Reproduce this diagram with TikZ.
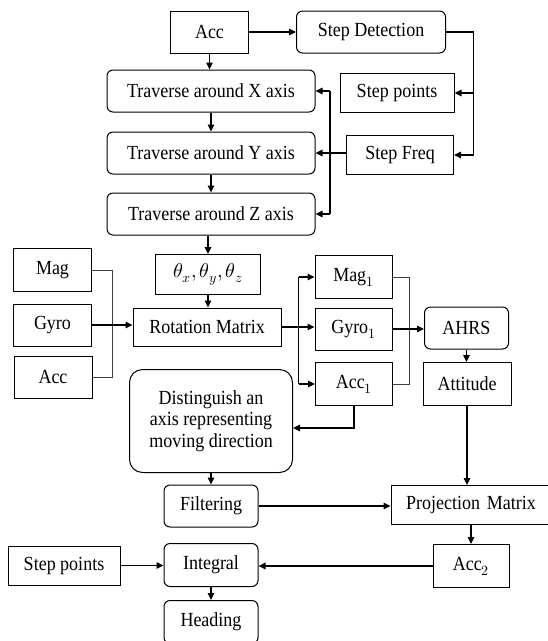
\documentclass[tikz,border=0pt]{standalone}
\usepackage{fontspec}
\usepackage{unicode-math}
\setmainfont{Liberation Serif}[FakeStretch=0.9]
\setmathfont{Latin Modern Math}
\usetikzlibrary{arrows.meta}
\begin{document}
\begin{tikzpicture}[x=1pt,y=-1pt,
  font=\fontsize{20}{21.5}\selectfont,
  >={Triangle[length=7pt,width=6.5pt]},
  box/.style={draw,line width=1pt,inner sep=0pt,align=center},
  rbox/.style={box,rounded corners=6pt},
  conn/.style={line width=1.1pt},
  thinconn/.style={line width=0.6pt,black!75},
  thickconn/.style={line width=2pt}]
\clip (0,0) rectangle (548,641);
\fill[white] (0,0) rectangle (548,641);
% top part
\node[box,minimum width=78pt,minimum height=42pt] (acc) at (209.5,32) {Acc};
\node[rbox,minimum width=149pt,minimum height=42pt] (sd) at (371,32) {Step Detection};
\node[rbox,minimum width=208pt,minimum height=42pt] (trx) at (211,91) {Traverse around X axis};
\node[box,minimum width=114pt,minimum height=39pt] (sp) at (397,93) {Step points};
\node[rbox,minimum width=208pt,minimum height=42pt] (try) at (211,153) {Traverse around Y axis};
\node[box,minimum width=107pt,minimum height=39pt] (sf) at (400,155) {Step Freq};
\node[rbox,minimum width=208pt,minimum height=42pt] (trz) at (211,214) {Traverse around Z axis};
% middle
\node[box,minimum width=105pt,minimum height=40pt] (th) at (208,274.5) {$\theta_x,\theta_y,\theta_z$};
\node[box,minimum width=148pt,minimum height=38pt] (rm) at (207,327) {Rotation Matrix};
\node[box,minimum width=78pt,minimum height=43pt] (mag) at (52.5,270) {Mag};
\node[box,minimum width=78pt,minimum height=42pt] (gyro) at (52.5,325) {Gyro};
\node[box,minimum width=78pt,minimum height=42pt] (accl) at (53,377) {Acc};
\node[box,minimum width=77pt,minimum height=43pt] (mag1) at (353.5,277) {Mag$_1$};
\node[box,minimum width=77pt,minimum height=42pt] (gyro1) at (353.5,329) {Gyro$_1$};
\node[box,minimum width=77pt,minimum height=43pt] (acc1) at (354,384) {Acc$_1$};
\node[rbox,minimum width=84pt,minimum height=42pt] (ahrs) at (466.5,328) {AHRS};
\node[box,minimum width=88pt,minimum height=43pt] (att) at (467,384) {Attitude};
\node[box,rounded corners=13pt,minimum width=163pt,minimum height=103pt] (dist) at (211,421)
  {Distinguish an\\axis representing\\moving direction};
% bottom
\node[rbox,minimum width=94pt,minimum height=42pt] (filt) at (211,506) {Filtering};
\node[box,minimum width=160pt,minimum height=39pt,text width=160pt] (pm) at (471,505) {Projection Matrix};
\node[box,minimum width=76pt,minimum height=43pt] (acc2) at (471,566) {Acc$_2$};
\node[box,minimum width=112pt,minimum height=39pt] (sp2) at (64,565.5) {Step points};
\node[rbox,minimum width=94pt,minimum height=43pt] (integ) at (211,565) {Integral};
\node[rbox,minimum width=94pt,minimum height=43pt] (head) at (211,622) {Heading};
% coordinates for buses
\coordinate (sdr) at (473.5,32);
\coordinate (fbus) at (330,0);
\coordinate (lbus) at (112.5,0);
\coordinate (rbus) at (298.8,0);
\coordinate (mbus) at (409,0);
% connectors top
\draw[conn,->] (acc.east) -- (sd.west);
\draw[conn,->] (acc.south) -- (acc.south |- trx.north);
\draw[conn,->] (trx.south) -- (try.north);
\draw[conn,->] (try.south) -- (trz.north);
\draw[conn,->] (sd.east) -| (sdr |- sf.east) -- (sf.east);
\draw[conn,->] (sdr |- sp.east) -- (sp.east);
\draw[conn,->] (sf.west |- try.east) -- (try.east);
\draw[conn] (fbus |- trx.east) -- (fbus |- trz.east);
\draw[conn,->] (fbus |- trx.east) -- (trx.east);
\draw[conn,->] (fbus |- trz.east) -- (trz.east);
\draw[conn,->] (trz.south -| th.north) -- (th.north);
\draw[conn,->] (th.south) -- (th.south |- rm.north);
% left inputs
\draw[thinconn] (mag.east) -| (lbus |- accl.east) -- (accl.east);
\draw[conn,->] (gyro.east) -- (rm.west |- gyro.east);
% rotation outputs
\draw[thickconn] (rm.east) -- (rbus |- rm.east);
\draw[conn] (rbus |- mag1.west) -- (rbus |- acc1.west);
\draw[conn,->] (rbus |- mag1.west) -- (mag1.west);
\draw[conn,->] (rbus |- rm.east) -- (gyro1.west |- rm.east);
\draw[conn,->] (rbus |- acc1.west) -- (acc1.west);
\draw[thinconn] (mag1.east) -| (mbus |- acc1.east) -- (acc1.east);
\draw[conn,->] (gyro1.east) -- (ahrs.west |- gyro1.east);
\draw[conn,->] (ahrs.south) -- (ahrs.south |- att.north);
\draw[conn,->] (acc1.south) |- ([yshift=-7pt]dist.east);
\draw[conn,->] (att.south) -- (att.south |- pm.north);
% bottom connectors
\draw[conn,->] (dist.south) -- (dist.south |- filt.north);
\draw[conn,->] (filt.east) -- (pm.west |- filt.east);
\draw[conn,->] (pm.south -| acc2.north) -- (acc2.north);
\draw[conn,->] (acc2.west) -- (integ.east |- acc2.west);
\draw[conn,->] (sp2.east) -- (integ.west |- sp2.east);
\draw[conn,->] (integ.south) -- (head.north);
\end{tikzpicture}
\end{document}
